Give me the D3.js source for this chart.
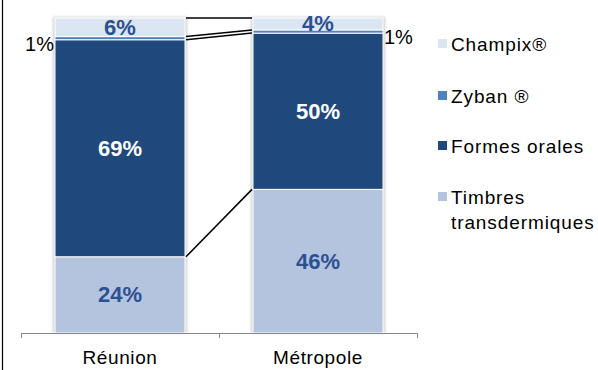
<!DOCTYPE html>
<html><head><meta charset="utf-8">
<script src="https://cdn.jsdelivr.net/npm/d3@7"></script>
<style>body{margin:0;background:#fff;}svg{display:block;font-family:"Liberation Sans",Arial,sans-serif;}</style>
</head><body>
<svg id="c" width="598" height="370"></svg>
<script>
const categories = ["Réunion", "Métropole"];
const seriesNames = ["Timbres transdermiques", "Formes orales", "Zyban®", "Champix®"];
const timbres = [24.2, 45.6];
const formesOrales = [68.9, 49.6];
const zyban = [1.0, 1.0];
const champix = [5.9, 3.8];
const legendLabels = [["Champix®"], ["Zyban ®"], ["Formes orales"], ["Timbres", "transdermiques"]];

const colors = {"Timbres transdermiques":"#b4c3de","Formes orales":"#1f497d","Zyban®":"#4f81bd","Champix®":"#dce6f2"};
const labelColors = {"Timbres transdermiques":"#2c5192","Formes orales":"#ffffff","Zyban®":"#000","Champix®":"#2c5192"};

const rows = categories.map((c,i)=>({cat:c,"Timbres transdermiques":timbres[i],"Formes orales":formesOrales[i],"Zyban®":zyban[i],"Champix®":champix[i]}));
const stack = d3.stack().keys(seriesNames)(rows);
const fmt = v => d3.format(".0f")(v) + "%";

const svg = d3.select("#c");
const x = d3.scaleBand().domain(categories).range([21,417]).paddingInner(0).paddingOuter(0);
const y = d3.scaleLinear().domain([0,100]).range([333,18]);
const barW = 130;
const bx = c => x(c) + (x.bandwidth()-barW)/2;

// frame line on left
svg.append("line").attr("x1",2.5).attr("x2",2.5).attr("y1",0).attr("y2",370).attr("stroke","#000").attr("stroke-width",1.2);

const defs = svg.append("defs");
const f = defs.append("filter").attr("id","sh").attr("x","-10%").attr("y","-10%").attr("width","120%").attr("height","120%");
f.append("feGaussianBlur").attr("stdDeviation",1.5);

// shadows
svg.append("g").selectAll("rect").data(categories).join("rect")
  .attr("x",d=>bx(d)-2).attr("width",barW+4)
  .attr("y",y(100)-1).attr("height",y(0)-y(100)+1)
  .attr("fill","#cfcfcf").attr("filter","url(#sh)");

// bars
const g = svg.append("g");
stack.forEach(s=>{
  g.append("g").selectAll("rect").data(s).join("rect")
    .attr("x",d=>bx(d.data.cat)).attr("width",barW)
    .attr("y",d=>y(d[1])).attr("height",d=>y(d[0])-y(d[1]))
    .attr("fill",colors[s.key]).attr("stroke","#fff").attr("stroke-width",1);
});

// connector lines
stack.forEach(s=>{
  const a=s[0], b=s[1];
  svg.append("line")
    .attr("x1",bx(categories[0])+barW+1).attr("y1",y(a[1]))
    .attr("x2",bx(categories[1])-1).attr("y2",y(b[1]))
    .attr("stroke","#000").attr("stroke-width",1.5);
});

// axis
const ax = svg.append("g");
ax.append("line").attr("x1",21).attr("x2",417).attr("y1",333.5).attr("y2",333.5).attr("stroke","#888");
[21,219,417].forEach(t=>ax.append("line").attr("x1",t+0.5).attr("x2",t+0.5).attr("y1",333).attr("y2",338).attr("stroke","#888"));
ax.selectAll("text.cat").data(categories).join("text")
  .attr("x",d=>x(d)+x.bandwidth()/2).attr("y",364).attr("text-anchor","middle")
  .attr("font-size",19).attr("letter-spacing",0.6).attr("fill","#000").text(d=>d);

// value labels
stack.forEach(s=>{
  s.forEach((d,i)=>{
    const v = d[1]-d[0];
    if (s.key==="Zyban®") {
      const xx = i===0 ? bx(d.data.cat)-1 : bx(d.data.cat)+barW+1;
      svg.append("text").attr("x",xx).attr("y",y(d[1])+14)
        .attr("text-anchor",i===0?"end":"start").attr("font-size",20).attr("fill","#000").text(fmt(v));
    } else {
      svg.append("text").attr("x",bx(d.data.cat)+barW/2).attr("y",(y(d[0])+y(d[1]))/2+7.5)
        .attr("text-anchor","middle").attr("font-size",22).attr("font-weight","bold")
        .attr("fill",labelColors[s.key]).text(fmt(v));
    }
  });
});

// legend
const legY = [44, 96, 146, 197];
const legKeys = ["Champix®","Zyban®","Formes orales","Timbres transdermiques"];
legKeys.forEach((k,i)=>{
  svg.append("rect").attr("x",438).attr("y",legY[i]-5).attr("width",9).attr("height",9).attr("fill",colors[k]);
  legendLabels[i].forEach((t,j)=>{
    svg.append("text").attr("x",451).attr("y",legY[i]+7+j*25).attr("font-size",19).attr("letter-spacing",0.9).attr("fill","#000").text(t);
  });
});
</script>
</body></html>
